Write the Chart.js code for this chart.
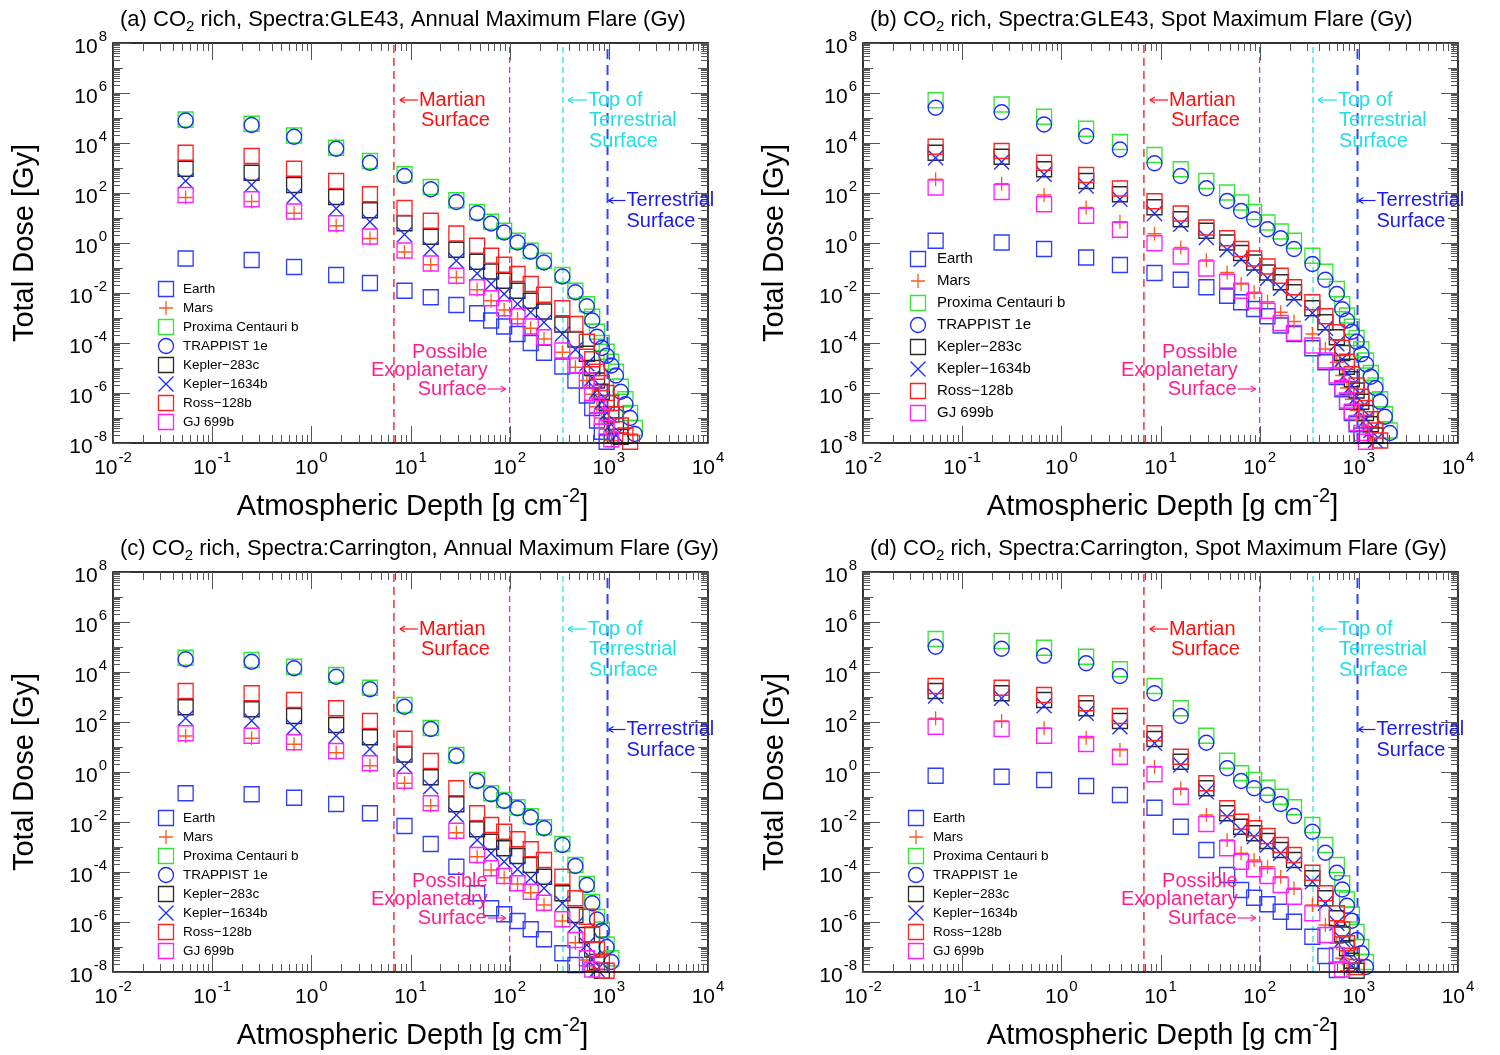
<!DOCTYPE html>
<html>
<head>
<meta charset="utf-8">
<script src="https://cdn.jsdelivr.net/npm/chart.js@4.4.1/dist/chart.umd.min.js"></script>
<style>
  html, body { margin: 0; padding: 0; background: #fff; }
  #Lienzo { position: relative; width: 1500px; height: 1055px; overflow: hidden; }
  .Panel { position: absolute; }
</style>
</head>
<body>
<div id="Lienzo">
  <div class="Panel" style="left:0;top:0"><canvas id="PanelA" width="750" height="528"></canvas></div>
  <div class="Panel" style="left:750px;top:0"><canvas id="PanelB" width="750" height="528"></canvas></div>
  <div class="Panel" style="left:0;top:529px"><canvas id="PanelC" width="750" height="526"></canvas></div>
  <div class="Panel" style="left:750px;top:529px"><canvas id="PanelD" width="750" height="526"></canvas></div>
</div>
<script>
// Atmospheric depth grid [g cm^-2], shared by every series
const DEPTH = [0.054, 0.25, 0.67, 1.78, 3.9, 8.7, 16, 29, 47, 65, 88, 120, 163, 222, 340, 460, 600,
               680, 760, 850, 950, 1060, 1180, 1320, 1470, 1640, 1830, 2050];

const SERIES_NAMES = ['Earth', 'Mars', 'Proxima Centauri b', 'TRAPPIST 1e',
                      'Kepler\u2212283c', 'Kepler\u22121634b', 'Ross\u2212128b', 'GJ 699b'];

// Reference depths: Martian surface, possible exoplanetary surface, top of terrestrial surface, terrestrial surface
const REF_DEPTHS = [6.8, 100, 345, 970];

// log10 of total dose [Gy]; rows follow SERIES_NAMES, columns follow DEPTH
const LOG_DOSE_A = [
  [-0.62, -0.68, -0.96, -1.28, -1.60, -1.91, -2.17, -2.48, -2.81, -3.10, -3.34, -3.64, -4.00, -4.39, -4.94, -5.50, -6.10, -6.60, -7.10, -7.55, -7.95],
  [1.82, 1.66, 1.19, 0.69, 0.18, -0.36, -0.87, -1.38, -1.87, -2.31, -2.68, -3.04, -3.41, -3.84, -4.37, -4.97, -5.50, -6.05, -6.55, -7.00, -7.45, -7.90],
  [4.94, 4.77, 4.30, 3.81, 3.28, 2.75, 2.24, 1.71, 1.24, 0.85, 0.49, 0.09, -0.31, -0.71, -1.28, -1.91, -2.45, -2.95, -3.55, -4.00, -4.35, -4.75, -5.15, -5.75, -6.25, -6.80, -7.40],
  [4.90, 4.72, 4.25, 3.77, 3.21, 2.68, 2.15, 1.64, 1.19, 0.78, 0.42, 0.02, -0.35, -0.78, -1.34, -1.97, -2.53, -3.10, -3.75, -4.20, -4.51, -4.90, -5.30, -5.95, -6.45, -7.00, -7.64],
  [2.97, 2.81, 2.32, 1.84, 1.31, 0.79, 0.25, -0.27, -0.75, -1.14, -1.51, -1.91, -2.31, -2.74, -3.26, -3.86, -4.43, -5.00, -5.50, -5.95, -6.40, -6.85, -7.30, -7.75],
  [2.48, 2.32, 1.88, 1.38, 0.85, 0.34, -0.24, -0.71, -1.22, -1.64, -2.04, -2.44, -2.77, -3.17, -3.64, -4.26, -4.83, -5.40, -5.90, -6.35, -6.80, -7.25, -7.70],
  [3.61, 3.48, 2.97, 2.48, 1.95, 1.40, 0.89, 0.38, -0.11, -0.51, -0.87, -1.24, -1.64, -2.07, -2.61, -3.24, -3.95, -4.65, -5.15, -5.60, -6.00, -6.40, -6.85, -7.30, -7.70, -7.95],
  [1.92, 1.75, 1.26, 0.79, 0.26, -0.30, -0.82, -1.31, -1.77, -2.21, -2.61, -2.93, -3.34, -3.77, -4.30, -4.90, -5.50, -6.00, -6.50, -6.95, -7.40, -7.85]
];

const LOG_DOSE_B = [
  [0.09, 0.02, -0.24, -0.58, -0.88, -1.20, -1.47, -1.77, -2.11, -2.37, -2.64, -2.93, -3.30, -3.64, -4.21, -4.77, -5.36, -5.85, -6.35, -6.80, -7.25, -7.70],
  [2.55, 2.37, 1.92, 1.42, 0.85, 0.37, -0.18, -0.68, -1.18, -1.64, -1.97, -2.35, -2.77, -3.14, -3.64, -4.24, -4.77, -5.30, -5.80, -6.25, -6.70, -7.10, -7.50, -7.90],
  [5.71, 5.54, 5.05, 4.57, 4.04, 3.52, 2.95, 2.48, 2.02, 1.62, 1.24, 0.82, 0.46, 0.09, -0.51, -1.15, -1.84, -2.45, -2.90, -3.35, -3.80, -4.25, -4.70, -5.20, -5.70, -6.25, -6.85, -7.50],
  [5.41, 5.23, 4.74, 4.28, 3.74, 3.19, 2.68, 2.19, 1.68, 1.28, 0.95, 0.55, 0.19, -0.24, -0.84, -1.47, -2.04, -2.65, -3.10, -3.55, -3.95, -4.45, -4.85, -5.35, -5.80, -6.35, -6.95, -7.60],
  [3.61, 3.45, 2.95, 2.48, 1.95, 1.43, 0.95, 0.49, 0.02, -0.40, -0.78, -1.18, -1.57, -1.97, -2.61, -3.17, -3.77, -4.40, -4.95, -5.45, -5.90, -6.35, -6.80, -7.25, -7.70],
  [3.41, 3.24, 2.75, 2.28, 1.75, 1.18, 0.75, 0.22, -0.27, -0.64, -1.02, -1.41, -1.81, -2.24, -2.80, -3.41, -4.03, -4.65, -5.20, -5.70, -6.15, -6.60, -7.05, -7.50, -7.90],
  [3.85, 3.68, 3.21, 2.72, 2.18, 1.67, 1.18, 0.62, 0.19, -0.24, -0.62, -0.94, -1.31, -1.77, -2.37, -2.93, -3.57, -4.20, -4.75, -5.25, -5.70, -6.15, -6.60, -7.05, -7.50, -7.90],
  [2.22, 2.04, 1.55, 1.09, 0.53, -0.01, -0.54, -1.02, -1.55, -1.91, -2.31, -2.71, -3.20, -3.60, -4.10, -4.70, -5.30, -5.80, -6.30, -6.75, -7.20, -7.60, -7.95]
];

const LOG_DOSE_C = [
  [-0.85, -0.89, -1.03, -1.28, -1.65, -2.16, -2.88, -3.79, -4.85, -5.45, -5.69, -5.96, -6.29, -6.69, -7.25, -7.72],
  [1.44, 1.35, 1.11, 0.77, 0.25, -0.45, -1.35, -2.43, -3.39, -3.92, -4.23, -4.48, -4.83, -5.32, -5.96, -6.83, -7.52, -7.95],
  [4.57, 4.48, 4.21, 3.88, 3.37, 2.68, 1.76, 0.68, -0.32, -0.85, -1.12, -1.41, -1.77, -2.21, -2.88, -3.72, -4.48, -5.20, -5.80, -6.30, -6.90, -7.45],
  [4.51, 4.41, 4.15, 3.81, 3.31, 2.61, 1.72, 0.64, -0.36, -0.89, -1.16, -1.45, -1.81, -2.25, -2.92, -3.76, -4.52, -5.25, -5.90, -6.35, -7.00, -7.60],
  [2.59, 2.51, 2.24, 1.88, 1.39, 0.70, -0.21, -1.29, -2.29, -2.79, -3.05, -3.36, -3.72, -4.19, -4.85, -5.72, -6.52, -7.10, -7.60, -7.95],
  [2.15, 2.05, 1.79, 1.45, 0.92, 0.25, -0.59, -1.72, -2.72, -3.25, -3.59, -3.89, -4.25, -4.65, -5.25, -6.12, -6.92, -7.50, -7.90],
  [3.24, 3.15, 2.88, 2.55, 2.04, 1.33, 0.44, -0.65, -1.65, -2.12, -2.39, -2.69, -3.09, -3.52, -4.19, -5.05, -5.79, -6.50, -7.10, -7.60, -7.95],
  [1.55, 1.45, 1.19, 0.84, 0.35, -0.35, -1.25, -2.35, -3.32, -3.85, -4.16, -4.45, -4.79, -5.23, -5.89, -6.72, -7.45, -7.90]
];

const LOG_DOSE_D = [
  [-0.15, -0.19, -0.32, -0.56, -0.92, -1.43, -2.19, -3.12, -4.12, -4.72, -5.03, -5.29, -5.59, -5.99, -6.59, -7.36, -7.92],
  [2.15, 2.04, 1.75, 1.37, 0.88, 0.21, -0.65, -1.72, -2.72, -3.25, -3.52, -3.79, -4.19, -4.65, -5.32, -6.12, -6.85, -7.45, -7.95],
  [5.32, 5.24, 4.97, 4.61, 4.11, 3.44, 2.55, 1.45, 0.45, -0.05, -0.32, -0.63, -0.99, -1.41, -2.12, -2.92, -3.72, -4.45, -5.10, -5.70, -6.40, -7.00, -7.60],
  [5.01, 4.93, 4.65, 4.35, 3.84, 3.15, 2.24, 1.17, 0.15, -0.36, -0.65, -0.92, -1.28, -1.76, -2.39, -3.23, -4.03, -4.70, -5.35, -5.95, -6.72, -7.25, -7.80],
  [3.24, 3.15, 2.88, 2.55, 2.04, 1.32, 0.41, -0.65, -1.65, -2.19, -2.45, -2.76, -3.12, -3.52, -4.25, -5.05, -5.85, -6.50, -7.05, -7.55, -7.95],
  [3.04, 2.95, 2.65, 2.35, 1.81, 1.15, 0.28, -0.79, -1.79, -2.32, -2.59, -2.92, -3.25, -3.68, -4.39, -5.25, -6.05, -6.70, -7.25, -7.75],
  [3.44, 3.37, 3.08, 2.75, 2.24, 1.55, 0.61, -0.45, -1.45, -1.99, -2.25, -2.56, -2.92, -3.32, -4.03, -4.85, -5.65, -6.30, -6.85, -7.35, -7.80],
  [1.81, 1.72, 1.45, 1.12, 0.61, -0.09, -0.99, -2.08, -3.05, -3.59, -3.89, -4.16, -4.52, -4.99, -5.65, -6.52, -7.32, -7.90]
];

const PANEL_TITLES = [
  ['(a) CO', '2', ' rich, Spectra:GLE43, Annual Maximum Flare (Gy)'],
  ['(b) CO', '2', ' rich, Spectra:GLE43, Spot Maximum Flare (Gy)'],
  ['(c) CO', '2', ' rich, Spectra:Carrington, Annual Maximum Flare (Gy)'],
  ['(d) CO', '2', ' rich, Spectra:Carrington, Spot Maximum Flare (Gy)']
];

const FUENTE = '"Liberation Sans", Arial, Helvetica, sans-serif';
const MARCADORES = ['rect', 'cross', 'rect', 'circle', 'rect', 'crossRot', 'rect', 'rect'];
const COLORES    = ['#2b3dff', '#ff5a1e', '#33e833', '#1a2bff', '#2a2a2a', '#1a2bff', '#ff2020', '#ff1fff'];
const RADIOS     = [10.6, 7, 10.6, 7.5, 10.6, 10.6, 10.6, 10.6];
const REF_ESTILO = [
  { Color: '#ff3b3b', Ancho: 1.6, Guion: [8, 5] },
  { Color: '#cc22cc', Ancho: 1.2, Guion: [6, 4] },
  { Color: '#22dede', Ancho: 1.2, Guion: [6, 4] },
  { Color: '#3340ff', Ancho: 2.0, Guion: [10, 6] }
];

function Linea(Ctx, X1, Y1, X2, Y2) {
  Ctx.beginPath(); Ctx.moveTo(X1, Y1); Ctx.lineTo(X2, Y2); Ctx.stroke();
}

function Flecha(Ctx, X1, X2, Y) {
  // arrow pointing to X2
  const D = X2 > X1 ? -1 : 1;
  Ctx.lineWidth = 1.2;
  Linea(Ctx, X1, Y, X2, Y);
  Linea(Ctx, X2, Y, X2 + D * 5, Y - 3);
  Linea(Ctx, X2, Y, X2 + D * 5, Y + 3);
}

function Potencia(Ctx, X, Y, Exp, Alinear) {
  const Base = '10', Sup = Exp < 0 ? '-' + Math.abs(Exp) : String(Exp);
  Ctx.font = `21px ${FUENTE}`;
  const AnchoBase = Ctx.measureText(Base).width;
  Ctx.font = `15px ${FUENTE}`;
  const AnchoSup = Ctx.measureText(Sup).width;
  const Total = AnchoBase + AnchoSup + 1;
  const X0 = Alinear === 'center' ? X - Total / 2 : X - Total;
  Ctx.textAlign = 'left'; Ctx.textBaseline = 'middle';
  Ctx.font = `21px ${FUENTE}`;
  Ctx.fillText(Base, X0, Y + 4);
  Ctx.font = `15px ${FUENTE}`;
  Ctx.fillText(Sup, X0 + AnchoBase + 1, Y - 6);
}

function Simbolo(Ctx, Estilo, X, Y, R, Color) {
  Ctx.strokeStyle = Color; Ctx.lineWidth = 1.3;
  Ctx.beginPath();
  if (Estilo === 'rect') {
    const S = R * Math.SQRT1_2;
    Ctx.rect(X - S, Y - S, 2 * S, 2 * S);
  } else if (Estilo === 'circle') {
    Ctx.arc(X, Y, R, 0, 2 * Math.PI);
  } else if (Estilo === 'cross') {
    Ctx.moveTo(X - R, Y); Ctx.lineTo(X + R, Y); Ctx.moveTo(X, Y - R); Ctx.lineTo(X, Y + R);
  } else {
    const S = R * Math.SQRT1_2;
    Ctx.moveTo(X - S, Y - S); Ctx.lineTo(X + S, Y + S); Ctx.moveTo(X - S, Y + S); Ctx.lineTo(X + S, Y - S);
  }
  Ctx.stroke();
}

function CrearDecoracion(Indice, Leyenda) {
  return {
    id: 'Decoracion',
    afterDraw(Grafico) {
      const Ctx = Grafico.ctx;
      const { left: L, right: R, top: T, bottom: B } = Grafico.chartArea;
      const EscX = Grafico.scales.x, EscY = Grafico.scales.y;
      Ctx.save();

      // marco y marcas
      Ctx.strokeStyle = '#000'; Ctx.lineWidth = 1.6;
      Ctx.strokeRect(L, T, R - L, B - T);
      Ctx.strokeStyle = '#555'; Ctx.lineWidth = 1;
      for (let E = -2; E <= 4; E++) {
        for (let K = 1; K <= 9; K++) {
          const V = K * Math.pow(10, E);
          if (V > 1e4) break;
          const P = Math.round(EscX.getPixelForValue(V)) + 0.5;
          const Lar = K === 1 ? 17 : 8;
          Linea(Ctx, P, B, P, B - Lar); Linea(Ctx, P, T, P, T + Lar);
        }
      }
      for (let E = -8; E <= 8; E++) {
        for (let K = 1; K <= 9; K++) {
          const V = K * Math.pow(10, E);
          if (V > 1e8) break;
          const P = Math.round(EscY.getPixelForValue(V)) + 0.5;
          const Lar = K === 1 ? (E % 2 === 0 ? 17 : 10) : 7;
          Linea(Ctx, L, P, L + Lar, P); Linea(Ctx, R, P, R - Lar, P);
        }
      }

      // etiquetas de ejes
      Ctx.fillStyle = '#000';
      for (let E = -2; E <= 4; E++) Potencia(Ctx, EscX.getPixelForValue(Math.pow(10, E)), B + 21, E, 'center');
      for (let E = -8; E <= 8; E += 2) Potencia(Ctx, L - 6, EscY.getPixelForValue(Math.pow(10, E)), E, 'right');

      // titulos de ejes
      Ctx.font = `29px ${FUENTE}`;
      Ctx.textBaseline = 'middle';
      const TxtX = 'Atmospheric Depth [g cm', SupX = '-2', FinX = ']';
      const A1 = Ctx.measureText(TxtX).width, A3 = Ctx.measureText(FinX).width;
      Ctx.font = `20px ${FUENTE}`;
      const A2 = Ctx.measureText(SupX).width;
      let X0 = (L + R) / 2 + 2 - (A1 + A2 + A3) / 2;
      Ctx.textAlign = 'left';
      Ctx.font = `29px ${FUENTE}`; Ctx.fillText(TxtX, X0, B + 64);
      Ctx.font = `20px ${FUENTE}`; Ctx.fillText(SupX, X0 + A1, B + 53);
      Ctx.font = `29px ${FUENTE}`; Ctx.fillText(FinX, X0 + A1 + A2, B + 64);

      Ctx.save();
      Ctx.translate(25, (T + B) / 2);
      Ctx.rotate(-Math.PI / 2);
      Ctx.textAlign = 'center';
      Ctx.fillText('Total Dose [Gy]', 0, 0);
      Ctx.restore();

      // titulo del panel
      const [T1, T2, T3] = PANEL_TITLES[Indice];
      Ctx.textAlign = 'left'; Ctx.textBaseline = 'middle';
      Ctx.font = `22px ${FUENTE}`;
      let Xt = 120;
      Ctx.fillText(T1, Xt, 20); Xt += Ctx.measureText(T1).width;
      Ctx.font = `15px ${FUENTE}`;
      Ctx.fillText(T2, Xt, 27); Xt += Ctx.measureText(T2).width;
      Ctx.font = `22px ${FUENTE}`;
      Ctx.fillText(T3, Xt, 20);

      // anotaciones de las lineas de referencia
      const Px = REF_DEPTHS.map(D => EscX.getPixelForValue(D));
      Ctx.font = `20px ${FUENTE}`;
      Ctx.textBaseline = 'middle';

      Ctx.fillStyle = Ctx.strokeStyle = '#ff1010';
      Flecha(Ctx, Px[0] + 24, Px[0] + 6, 100);
      Ctx.fillText('Martian', Px[0] + 25, 100); Ctx.fillText('Surface', Px[0] + 27, 120);

      Ctx.fillStyle = Ctx.strokeStyle = '#1ee0e6';
      Flecha(Ctx, Px[2] + 24, Px[2] + 5, 100);
      Ctx.fillText('Top of', Px[2] + 25, 100);
      Ctx.fillText('Terrestrial', Px[2] + 26, 120.5);
      Ctx.fillText('Surface', Px[2] + 26, 141);

      Ctx.fillStyle = Ctx.strokeStyle = '#1a1aee';
      Flecha(Ctx, Px[3] + 18, Px[3] + 1, 200.5);
      Ctx.fillText('Terrestrial', Px[3] + 19, 200.5);
      Ctx.fillText('Surface', Px[3] + 19, 221);

      Ctx.fillStyle = Ctx.strokeStyle = '#ff1f8f';
      Ctx.textAlign = 'right';
      Ctx.fillText('Possible', Px[1] - 22, 352.5);
      Ctx.fillText('Exoplanetary', Px[1] - 22, 370.5);
      Ctx.fillText('Surface', Px[1] - 23, 389);
      Flecha(Ctx, Px[1] - 22, Px[1] - 4, 389);

      // leyenda
      Ctx.textAlign = 'left'; Ctx.textBaseline = 'middle';
      Ctx.font = `${Leyenda.Fuente}px ${FUENTE}`;
      SERIES_NAMES.forEach((Nombre, I) => {
        const Y = Leyenda.Y0 + I * Leyenda.Paso;
        Simbolo(Ctx, MARCADORES[I], Leyenda.XSim, Y, RADIOS[I], COLORES[I]);
        Ctx.fillStyle = '#000';
        Ctx.fillText(Nombre, Leyenda.XTxt, Y);
      });

      Ctx.restore();
    }
  };
}

function RenderPanel(IdCanvas, Indice, Dosis, Leyenda) {
  const Canvas = document.getElementById(IdCanvas);
  const Alto = Canvas.height;

  const Referencias = REF_DEPTHS.map((D, I) => ({
    data: [{ x: D, y: 1e-8 }, { x: D, y: 1e8 }],
    showLine: true,
    pointRadius: 0,
    borderColor: REF_ESTILO[I].Color,
    borderWidth: REF_ESTILO[I].Ancho,
    borderDash: REF_ESTILO[I].Guion,
    order: 100
  }));

  const Series = SERIES_NAMES.map((Nombre, I) => ({
    label: Nombre,
    data: Dosis[I].map((V, J) => ({ x: DEPTH[J], y: Math.pow(10, V) })),
    showLine: false,
    pointStyle: MARCADORES[I],
    pointRadius: RADIOS[I],
    pointBorderWidth: 1.3,
    borderColor: COLORES[I],
    backgroundColor: 'rgba(0,0,0,0)',
    clip: false,
    order: SERIES_NAMES.length - I
  }));

  return new Chart(Canvas, {
    type: 'scatter',
    data: { datasets: [...Referencias, ...Series] },
    options: {
      responsive: false,
      animation: false,
      devicePixelRatio: 1,
      events: [],
      layout: { padding: { left: 113, right: 42, top: 43, bottom: Alto - 443 } },
      scales: {
        x: { type: 'logarithmic', min: 1e-2, max: 1e4, display: false },
        y: { type: 'logarithmic', min: 1e-8, max: 1e8, display: false }
      },
      plugins: { legend: { display: false }, tooltip: { enabled: false }, title: { display: false } }
    },
    plugins: [CrearDecoracion(Indice, Leyenda)]
  });
}

const LeyendaChica  = { XSim: 166, XTxt: 183, Y0: 289, Paso: 19, Fuente: 13.5 };
const LeyendaGrande = { XSim: 168, XTxt: 187, Y0: 259, Paso: 22, Fuente: 15 };

RenderPanel('PanelA', 0, LOG_DOSE_A, LeyendaChica);
RenderPanel('PanelB', 1, LOG_DOSE_B, LeyendaGrande);
RenderPanel('PanelC', 2, LOG_DOSE_C, LeyendaChica);
RenderPanel('PanelD', 3, LOG_DOSE_D, LeyendaChica);
</script>
</body>
</html>
